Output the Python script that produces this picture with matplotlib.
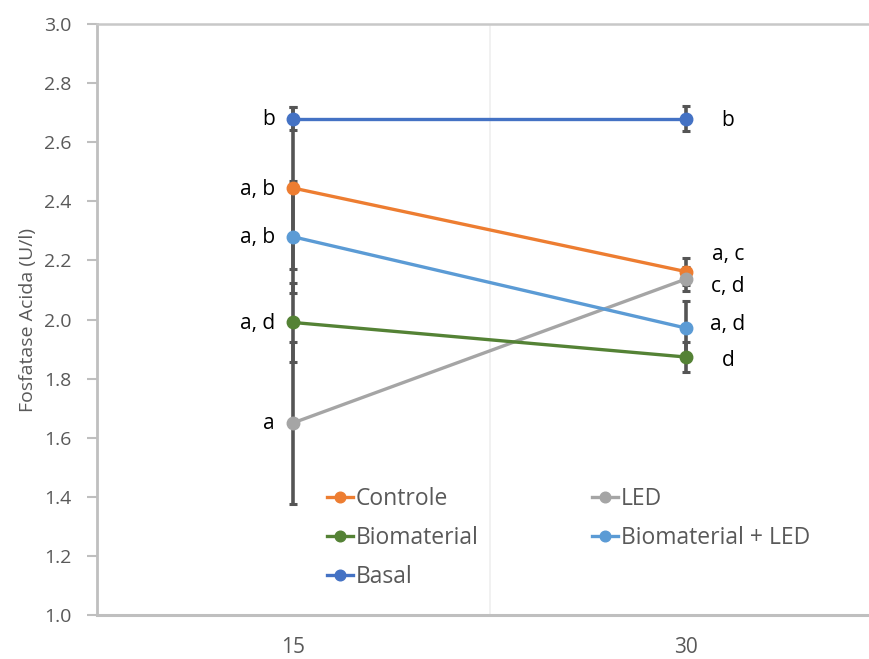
import matplotlib
matplotlib.use("Agg")
import matplotlib.pyplot as plt
import numpy as np

plt.rcParams['font.family'] = ['Open Sans', 'DejaVu Sans']

days = ["15", "30"]
series_names = ["Controle", "LED", "Biomaterial", "Biomaterial + LED", "Basal"]
controle = [2.445, 2.162]
led = [1.650, 2.137]
biomaterial = [1.990, 1.873]
bio_led = [2.280, 1.971]
basal = [2.680, 2.680]

err_controle = [0.275, 0.045]
err_led = [0.275, 0.040]
err_biomaterial = [0.135, 0.050]
err_bio_led = [0.190, 0.090]
err_basal = [0.040, 0.042]

labels_15 = ["a, b", "a", "a, d", "a, b", "b"]
labels_30 = ["a, c", "c, d", "d", "a, d", "b"]
label_y_30 = [2.220, 2.112, 1.862, 1.983, 2.675]

colors = {"Controle": "#ED7D31", "LED": "#A5A5A5", "Biomaterial": "#548235",
          "Biomaterial + LED": "#5B9BD5", "Basal": "#4472C4"}

values = [controle, led, biomaterial, bio_led, basal]
errors = [err_controle, err_led, err_biomaterial, err_bio_led, err_basal]

fig = plt.figure(figsize=(8.69, 6.59), dpi=100)
ax = fig.add_axes([96.5/869, 44/659, 786/869, 591/659])

x = np.arange(len(days))
grey_txt = "#595959"
handles = {}
for name, vals, errs in zip(series_names, values, errors):
    ax.errorbar(x, vals, yerr=errs, fmt='none', ecolor="#555555", elinewidth=2.6,
                capsize=3.2, capthick=2.2, zorder=2)
    h, = ax.plot(x, vals, '-o', color=colors[name], lw=2.4, ms=9, zorder=3, label=name)
    handles[name] = h

for name, vals, lab in zip(series_names, values, labels_15):
    ax.annotate(lab, (x[0], vals[0]), xytext=(-18, -1), textcoords='offset pixels',
                ha='right', va='center', fontsize=15, color="#000000")
for name, ly, lab in zip(series_names, label_y_30, labels_30):
    ax.annotate(lab, (x[1], ly), xytext=(42, 0), textcoords='offset pixels',
                ha='center', va='center', fontsize=15, color="#000000")

ax.set_xlim(-0.5, 1.5)
ax.set_ylim(1.0, 3.0)
ax.set_yticks(np.arange(1.0, 3.01, 0.2))
ax.set_yticklabels([f"{v:.1f}" for v in np.arange(1.0, 3.01, 0.2)])
ax.set_xticks(x)
ax.set_xticklabels(days)
ax.axvline(0.5, color="#EFEFEF", lw=1.2, zorder=0)

ax.spines['right'].set_visible(False)
ax.spines['left'].set_color("#BFBFBF")
ax.spines['left'].set_linewidth(2)
ax.spines['bottom'].set_color("#BFBFBF")
ax.spines['bottom'].set_linewidth(2.2)
ax.spines['top'].set_color("#C8C8C8")
ax.spines['top'].set_linewidth(1.8)

ax.tick_params(axis='y', direction='out', length=7, width=1.5, color="#BFBFBF",
               labelsize=14, labelcolor=grey_txt, pad=11)
ax.tick_params(axis='x', length=0, labelsize=15, labelcolor=grey_txt, pad=16)

ax.set_ylabel("Fosfatase Acida (U/l)", fontsize=14, color=grey_txt, labelpad=5)

order = ["Controle", "Biomaterial", "Basal", "LED", "Biomaterial + LED"]
leg = ax.legend([handles[n] for n in order], order, ncol=2, frameon=False,
                loc='upper left', bbox_to_anchor=((327-96.5)/786, (615-487)/591),
                fontsize=16.5, handlelength=1.15, handletextpad=0.1,
                columnspacing=4.95, labelspacing=0.66, markerscale=0.85,
                borderaxespad=0, borderpad=0)
for t in leg.get_texts():
    t.set_color(grey_txt)

fig.savefig("out.png", dpi=100)
